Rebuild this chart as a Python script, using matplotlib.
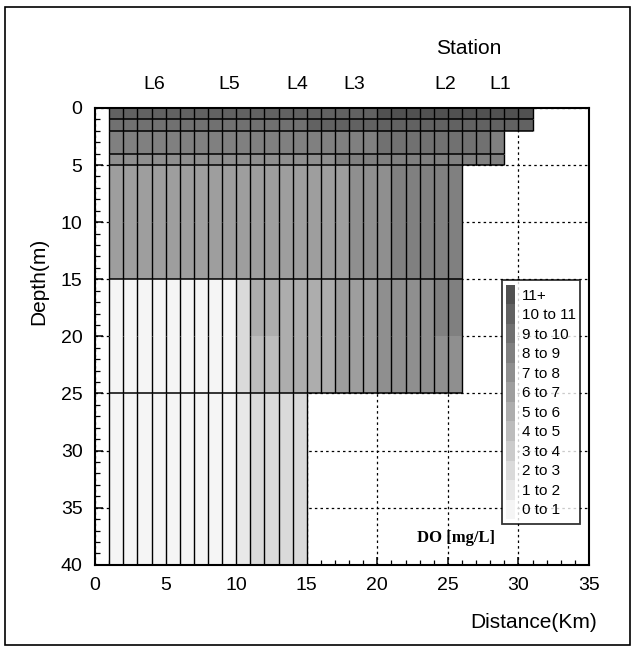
import numpy as np
import matplotlib
matplotlib.use('Agg')
import matplotlib.pyplot as plt
from matplotlib.colors import ListedColormap, BoundaryNorm
from matplotlib.patches import Patch, Rectangle
import matplotlib.transforms as mtrans

plt.rcParams['font.family'] = ['Liberation Sans Narrow', 'Liberation Sans', 'DejaVu Sans']

# grid of the section: 1 km columns starting at km 1, depth rows (m)
x_edges = np.arange(1, 32)
depth_edges = [0, 1, 2, 4, 5, 10, 15, 20, 25, 40]

# DO (mg/L) read per 1 km column, one list per depth row
do_0_1 = [10.4, 10.4, 10.5, 10.5, 10.5, 10.5, 10.5, 10.6, 10.6, 10.6,
          10.6, 10.7, 10.7, 10.7, 10.8, 10.8, 10.8, 10.9, 10.9, 11.0,
          11.1, 11.1, 11.2, 11.2, 11.3, 11.3, 11.3, 11.2, 11.1, 11.0]
do_1_2 = [9.6, 9.6, 9.6, 9.7, 9.7, 9.7, 9.7, 9.8, 9.8, 9.8,
          9.8, 9.9, 9.9, 9.9, 10.0, 10.0, 10.0, 10.1, 10.1, 10.2,
          10.3, 10.3, 10.4, 10.4, 10.5, 10.5, 10.4, 10.3, 10.2, 10.1]
do_2_4 = [8.4, 8.4, 8.4, 8.4, 8.5, 8.5, 8.5, 8.5, 8.5, 8.5,
          8.5, 8.5, 8.6, 8.6, 8.6, 8.7, 8.7, 8.8, 8.9, 9.0,
          9.1, 9.1, 9.2, 9.2, 9.2, 9.1, 9.0, 8.9]
do_4_5 = [7.6, 7.6, 7.6, 7.6, 7.6, 7.6, 7.6, 7.6, 7.6, 7.6,
          7.6, 7.6, 7.7, 7.7, 7.8, 7.9, 8.0, 8.1, 8.2, 8.4,
          8.5, 8.5, 8.6, 8.6, 8.6, 8.5, 8.4, 8.3]
do_5_10 = [6.6, 6.6, 6.6, 6.6, 6.6, 6.6, 6.6, 6.6, 6.6,
           6.3, 6.3, 6.3, 6.3, 6.3, 6.6, 6.7, 6.9,
           7.2, 7.5, 7.7, 8.0, 8.2, 8.3, 8.4, 8.4]
do_10_15 = [6.2, 6.2, 6.1, 6.1, 6.1, 6.1, 6.1, 6.1, 6.1,
            6.0, 6.0, 6.0, 6.1, 6.1, 6.4, 6.6, 6.8,
            7.1, 7.4, 7.6, 8.0, 8.1, 8.2, 8.3, 8.3]
do_15_20 = [0.8, 0.5, 0.4, 0.4, 0.4, 0.4, 0.4, 0.4, 0.5,
            2.8, 5.0, 5.1, 5.2, 5.3, 5.7, 5.9, 6.2,
            6.6, 6.9, 7.2, 7.6, 7.8, 7.9, 8.0, 8.0]
do_20_25 = [0.6, 0.4, 0.3, 0.3, 0.3, 0.3, 0.3, 0.3, 0.4,
            2.5, 4.8, 4.9, 5.0, 5.1, 5.5, 5.7, 6.0,
            6.4, 6.7, 7.0, 7.4, 7.6, 7.7, 7.8, 7.8]
do_25_40 = [0.3, 0.3, 0.2, 0.2, 0.2, 0.2, 0.2, 0.2, 0.3,
            1.5, 2.7, 2.8, 2.9, 2.9]
rows = [do_0_1, do_1_2, do_2_4, do_4_5, do_5_10,
        do_10_15, do_15_20, do_20_25, do_25_40]

line_depths = [1, 2, 4, 5, 15, 25]

stations = ['L6', 'L5', 'L4', 'L3', 'L2', 'L1']
station_km = [4.2, 9.5, 14.3, 18.4, 24.8, 28.7]

do_bounds = [0, 1, 2, 3, 4, 5, 6, 7, 8, 9, 10, 11, 30]
do_labels = ['0 to 1', '1 to 2', '2 to 3', '3 to 4', '4 to 5', '5 to 6',
             '6 to 7', '7 to 8', '8 to 9', '9 to 10', '10 to 11', '11+']
do_grays = ['#f5f5f5', '#e8e8e8', '#dadada', '#cbcbcb', '#bcbcbc', '#adadad',
            '#9e9e9e', '#8f8f8f', '#808080', '#717171', '#626262', '#515151']

Z = np.full((len(rows), len(x_edges) - 1), np.nan)
for i, r in enumerate(rows):
    Z[i, :len(r)] = r
Z = np.ma.masked_invalid(Z)

cmap = ListedColormap(do_grays)
norm = BoundaryNorm(do_bounds, cmap.N)

fig = plt.figure(figsize=(6.34, 6.5), dpi=100)
ax = fig.add_axes([0.150, 0.131, 0.779, 0.703])

ax.pcolormesh(x_edges, depth_edges, Z, cmap=cmap, norm=norm, zorder=1)

# cell lines
for i, r in enumerate(rows):
    n = len(r)
    ax.vlines(x_edges[:n + 1], depth_edges[i], depth_edges[i + 1],
              colors='k', lw=1.0, zorder=2)
for d in line_depths:
    i = depth_edges.index(d)
    n = max(len(rows[i - 1]), len(rows[i]))
    ax.hlines(d, x_edges[0], x_edges[n], colors='k', lw=1.1, zorder=2)

ax.set_xlim(0, 35)
ax.set_ylim(40, 0)
ax.set_xticks(np.arange(0, 36, 5))
ax.set_yticks(np.arange(0, 41, 5))
ax.set_xticks(np.arange(0, 36, 1), minor=True)
ax.set_yticks(np.arange(0, 41, 1), minor=True)
ax.tick_params(which='both', direction='in', top=False, right=False,
               labelsize=14)
ax.tick_params(which='major', length=6, width=1.1, pad=9)
ax.tick_params(which='minor', length=3.5, width=0.9)
ax.grid(True, which='major', color='k', ls=(0, (2, 2.5)), lw=0.9)
ax.set_axisbelow(True)
for s in ax.spines.values():
    s.set_linewidth(1.5)
    s.set_zorder(3)

ax.set_ylabel('Depth(m)', fontsize=15)
ax.yaxis.set_label_coords(-0.095, 0.62)
ax.set_xlabel('Distance(Km)', fontsize=15, loc='right')
ax.xaxis.set_label_coords(1.016, -0.105)

tr = mtrans.blended_transform_factory(ax.transData, ax.transAxes)
for name, km in zip(stations, station_km):
    ax.text(km, 1.051, name, transform=tr, ha='center', va='center',
            fontsize=14)
ax.text(26.5, 1.13, 'Station', transform=tr, ha='center', va='center',
        fontsize=15)

ax.text(0.731, 0.059, 'DO [mg/L]', transform=ax.transAxes, ha='center',
        va='center', fontsize=12, fontweight='bold',
        family=['Liberation Serif', 'DejaVu Serif'])

handles = [Patch(facecolor=c, edgecolor='none') for c in do_grays[::-1]]
leg = ax.legend(handles, do_labels[::-1], loc='lower right',
                bbox_to_anchor=(0.982, 0.09), fontsize=11, frameon=True,
                fancybox=False, labelspacing=0.0, handleheight=1.59,
                handlelength=0.6, handletextpad=0.4, borderpad=0.3,
                borderaxespad=0.0)
leg.get_frame().set_edgecolor('k')
leg.get_frame().set_linewidth(1.3)
leg.set_zorder(5)

fig.add_artist(Rectangle((0.008, 0.008), 0.986, 0.981,
                         transform=fig.transFigure, fill=False,
                         ec='k', lw=1.2))

fig.savefig('out.png', dpi=100)
